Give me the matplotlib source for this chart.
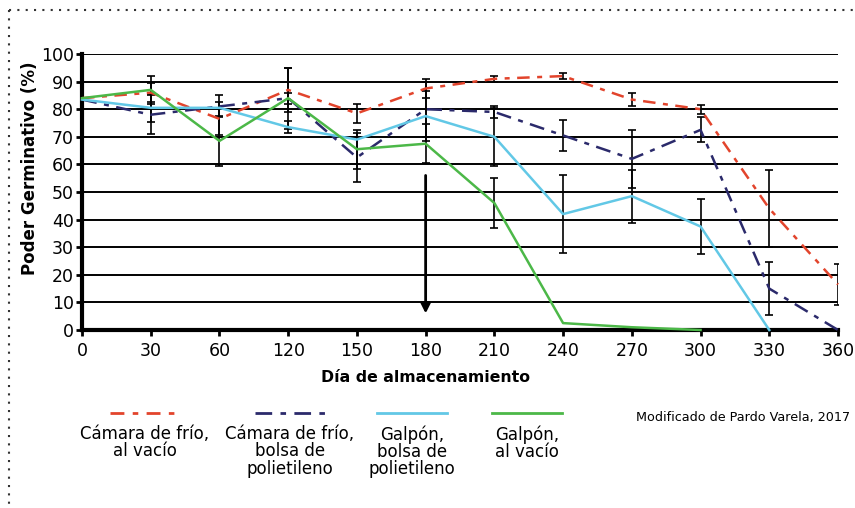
import numpy as np
import matplotlib
matplotlib.use("Agg")
import matplotlib.pyplot as plt
from matplotlib.lines import Line2D

plt.rcParams['font.family'] = ['DejaVu Sans']

days = ["0", "30", "60", "120", "150", "180", "210", "240", "270", "300", "330", "360"]

camara_vacio = [84, 86, 76.5, 87, 78.5, 87.5, 91, 92, 83.5, 80, 44, 16.5]
camara_vacio_err = [0, 3.5, 6, 8, 3.5, 3.3, 1.2, 1.2, 2.2, 1.6, 14, 7.5]

camara_bolsa = [83.5, 78, 81, 84, 62.5, 80, 79, 70.5, 62, 72.5, 15, 0]
camara_bolsa_err = [0, 7, 4, 2, 9, 10, 2.3, 5.7, 10.4, 4.5, 9.5, 0]

galpon_bolsa = [83.5, 80.5, 80.5, 73.5, 69, 77.5, 70, 42, 48.5, 37.5, 0, np.nan]
galpon_bolsa_err = [0, 5, 0, 2.2, 0, 9, 10.5, 14, 9.6, 10, 0, 0]

galpon_vacio = [84, 87, 68.5, 84, 65.5, 67.5, 46, 2.5, 1, 0, np.nan, np.nan]
galpon_vacio_err = [0, 5, 9, 11, 7, 7, 9, 0, 0, 0, 0, 0]

labels = ["Cámara de frío,\nal vacío",
          "Cámara de frío,\nbolsa de\npolietileno",
          "Galpón,\nbolsa de\npolietileno",
          "Galpón,\nal vacío"]
colors = ["#e2442c", "#2b2a6b", "#62c8e6", "#4cb848"]
styles = [(0, (5, 3, 2, 3)), (0, (6, 3, 2, 3)), '-', '-']

series = [camara_vacio, camara_bolsa, galpon_bolsa, galpon_vacio]
errors = [camara_vacio_err, camara_bolsa_err, galpon_bolsa_err, galpon_vacio_err]

fig = plt.figure(figsize=(8.55, 5.08), dpi=100)
ax = fig.add_axes([82/855, 1-330/508, (838-82)/855, (330-54)/508])

x = np.arange(len(days))

for yv in range(10, 101, 10):
    ax.axhline(yv, color='black', lw=1.4, zorder=1)

for vals, errs, c, ls in zip(series, errors, colors, styles):
    v = np.array(vals, dtype=float)
    e = np.array(errs, dtype=float)
    m = (e > 0) & ~np.isnan(v)
    ax.errorbar(x[m], v[m], yerr=e[m], fmt='none', ecolor='black',
                elinewidth=1.2, capsize=3, capthick=1.2, zorder=2)

for vals, c, ls in zip(series, colors, styles):
    ax.plot(x, vals, color=c, lw=1.8, linestyle=ls, zorder=3, clip_on=False)

ax.annotate('', xy=(5, 6), xytext=(5, 56),
            arrowprops=dict(arrowstyle='-|>', color='black', lw=2,
                            mutation_scale=14, shrinkA=0, shrinkB=0), zorder=4)

ax.set_xlim(0, 11)
ax.set_ylim(0, 100)
ax.set_xticks(x)
ax.set_xticklabels(days)
ax.set_yticks(range(0, 101, 10))
for s in ['top', 'right']:
    ax.spines[s].set_visible(False)
ax.spines['left'].set_linewidth(3)
ax.spines['bottom'].set_linewidth(3)
ax.tick_params(axis='both', direction='out', length=4, width=2, labelsize=12.5)
ax.tick_params(axis='x', pad=5)
ax.tick_params(axis='y', pad=2)
ax.set_xlabel("Día de almacenamiento", fontsize=11.3, fontweight='bold')
ax.set_ylabel("Poder Germinativo (%)", fontsize=12, fontweight='bold')
ax.xaxis.set_label_coords((425-82)/756, -(378-330)/276)
ax.yaxis.set_label_coords(-(82-30)/756, (330-168)/276)
ax.xaxis.label.set_va('center')
ax.yaxis.label.set_va('center')

# legend
centers = [145, 290, 412, 527]
for cx, c, ls, lab in zip(centers, colors, styles, labels):
    fig.add_artist(Line2D([(cx-35)/855, (cx+35)/855], [1-413/508, 1-413/508],
                          color=c, lw=2, linestyle=ls, transform=fig.transFigure))
    fig.text(cx/855, 1-425/508, lab, ha='center', va='top', fontsize=12,
             linespacing=0.95)

fig.text(850/855, 1-417/508, "Modificado de Pardo Varela, 2017", ha='right',
         va='center', fontsize=9.2)

# dotted border
fig.add_artist(Line2D([9/855, 1], [1-10/508, 1-10/508], color='#333333', lw=1.5,
                      linestyle=(0, (1, 3)), transform=fig.transFigure))
fig.add_artist(Line2D([9/855, 9/855], [1-10/508, 0], color='#333333', lw=1.5,
                      linestyle=(0, (1, 3)), transform=fig.transFigure))

fig.savefig("out.png", dpi=100)
